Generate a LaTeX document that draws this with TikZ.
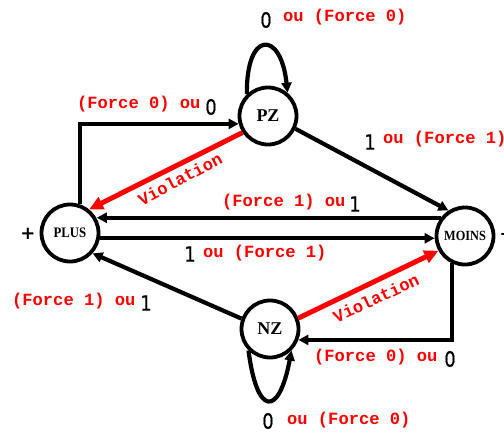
\documentclass[tikz,border=0pt]{standalone}
\usepackage{fontspec}
\setmainfont{Liberation Serif}
\newfontfamily\redfont{Liberation Mono}
\newfontfamily\digitfont[FakeStretch=0.85,FakeBold=0.6]{DejaVu Sans}
\newfontfamily\signfont{DejaVu Sans}
\newfontfamily\statefont[FakeStretch=0.88]{Liberation Serif}
\usetikzlibrary{arrows.meta}
\definecolor{vred}{RGB}{255,0,0}
\tikzset{
  state/.style={circle,draw=black,line width=3.8pt,minimum size=57pt,inner sep=0pt,fill=white},
  conn/.style={line width=4.2pt,draw=black,-{Triangle[length=10pt,width=10pt]}},
  viol/.style={line width=5pt,draw=vred,-{Triangle[length=14pt,width=13pt]}},
  rlab/.style={text=vred,font=\redfont\bfseries\fontsize{17.1}{18}\selectfont,inner sep=0pt},
  dlab/.style={text=black,font=\digitfont\fontsize{21}{22}\selectfont,inner sep=0pt},
  vlab/.style={text=vred,font=\redfont\bfseries\fontsize{17.1}{18}\selectfont,inner sep=0pt}
}
\begin{document}
\begin{tikzpicture}[x=1pt,y=-1pt]
\useasboundingbox (0,0) rectangle (504,432);
% states
\node[state,font=\bfseries\fontsize{18}{20}\selectfont] (PZ) at (268,116) {PZ};
\node[state,font=\bfseries\fontsize{18}{20}\selectfont] (NZ) at (270,329) {NZ};
\node[state,font=\statefont\bfseries\fontsize{14.5}{16}\selectfont] (PLUS) at (70,233) {PLUS};
\node[state,font=\statefont\bfseries\fontsize{14}{16}\selectfont] (MOINS) at (465,236) {MOINS};
\node[font=\signfont\bfseries\fontsize{18}{20}\selectfont,inner sep=0pt] (plus) at (28,234) {+};
\node[font=\signfont\bfseries\fontsize{14}{16}\selectfont,inner sep=0pt,anchor=west] (minus) at (500.5,236) {-};
% self loops
\draw[conn] (PZ.134) .. controls (246,30) and (281,30) .. (PZ.50);
\draw[conn] (NZ.225) .. controls (257,417) and (279,417) .. (NZ.-45);
% edges
\draw[conn] (PLUS.70) |- (PZ.195);
\draw[conn] (PZ.-25) -- (MOINS.123);
\draw[conn] (MOINS.143) -- (MOINS.143 -| PLUS.28);
\draw[conn] (PLUS.-10) -- (PLUS.-10 -| MOINS.west);
\draw[conn] (NZ.160) -- (PLUS.-42);
\draw[conn] (MOINS.244) |- (NZ.-21);
\draw[viol] (PZ.213) -- (PLUS.51);
\draw[viol] (NZ.21) -- (MOINS.209);
% labels
\node[dlab] (l1) at (266,20) {0};
\node[rlab,anchor=west] (l1r) at (283,17) {ou (Force 0)};
\node[rlab,anchor=west] (l2r) at (77,104) {(Force 0) ou};
\node[dlab] (l2) at (211,107) {0};
\node[dlab] (l3) at (370,142) {1};
\node[rlab,anchor=west] (l3r) at (383,139) {ou (Force 1)};
\node[rlab,anchor=west] (l4r) at (222,202) {(Force 1) ou};
\node[dlab] (l4) at (355,204) {1};
\node[dlab] (l5) at (190,254) {1};
\node[rlab,anchor=west] (l5r) at (203,253) {ou (Force 1)};
\node[rlab,anchor=west] (l6r) at (12,301) {(Force 1) ou};
\node[dlab] (l6) at (146,303) {1};
\node[rlab,anchor=west] (l7r) at (314,357) {(Force 0) ou};
\node[dlab] (l7) at (450,359) {0};
\node[dlab] (l8) at (268,421) {0};
\node[rlab,anchor=west] (l8r) at (287,420) {ou (Force 0)};
\node[vlab,rotate=28] (v1) at (180,179) {Violation};
\node[vlab,rotate=25] (v2) at (376,298) {Violation};
\end{tikzpicture}
\end{document}
